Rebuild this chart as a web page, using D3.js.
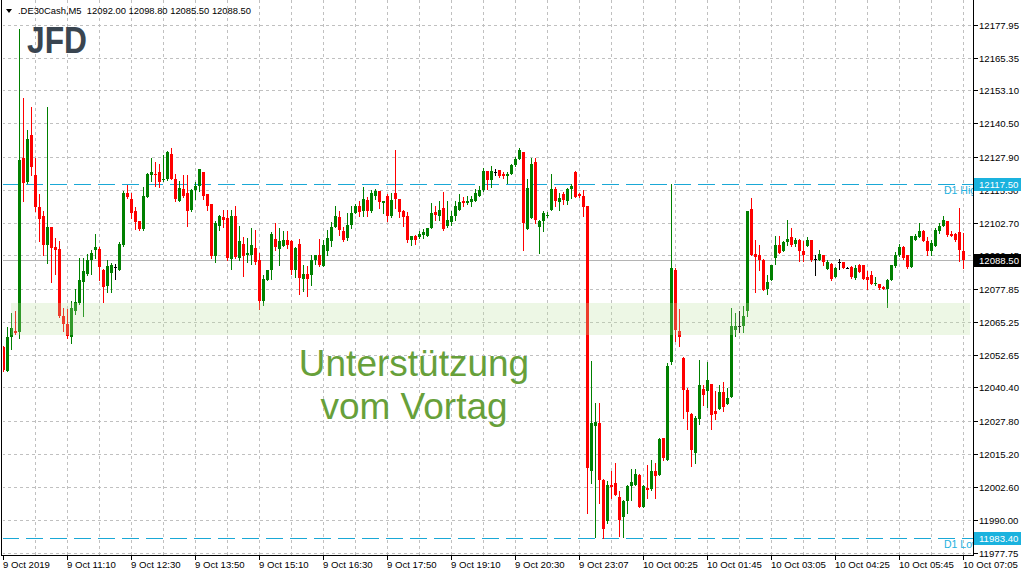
<!DOCTYPE html>
<html><head><meta charset="utf-8">
<script src="https://cdn.jsdelivr.net/npm/d3@7/dist/d3.min.js"></script>
<style>body{margin:0;background:#fff}svg{display:block}</style>
</head><body><svg id="c" width="1024" height="576"></svg>
<script>
const symbol = ".DE30Cash,M5";
const headerValues = ["12092.00","12098.80","12085.50","12088.50"];
const logoText = "JFD";
const opens = [12055.5,12046.5,12059.4,12061.9,12061.3,12127.4,12118.2,12135.9,12121.0,12108.9,
12105.5,12094.5,12101.1,12093.4,12093.0,12067.3,12064.2,12059.4,12069.5,12072.4,
12080.2,12083.5,12088.8,12092.3,12093.0,12085.0,12078.7,12083.8,12086.1,12085.0,
12094.3,12113.9,12111.9,12107.2,12103.4,12100.5,12112.6,12121.0,12121.4,12122.0,
12118.9,12119.4,12129.0,12119.4,12111.2,12115.6,12113.9,12107.5,12115.1,12116.6,
12122.1,12113.5,12109.7,12090.1,12101.7,12104.9,12104.6,12089.1,12105.5,12089.5,
12094.9,12090.4,12090.7,12093.3,12088.6,12073.0,12081.0,12085.0,12096.8,12092.9,
12094.1,12096.4,12095.8,12084.8,12094.9,12081.5,12083.5,12082.8,12088.6,12090.7,
12086.3,12092.0,12095.8,12101.2,12105.0,12099.8,12097.1,12102.1,12106.3,12109.0,
12107.2,12111.3,12107.2,12113.1,12115.0,12110.1,12112.8,12105.3,12113.9,12111.6,
12107.2,12105.5,12096.1,12097.9,12097.4,12098.3,12097.7,12100.8,12106.8,12105.5,
12108.2,12101.5,12103.2,12105.5,12107.8,12111.2,12110.1,12110.6,12111.2,12113.1,
12115.1,12122.3,12118.9,12122.1,12122.6,12121.3,12120.4,12121.1,12124.5,12127.0,
12129.5,12100.5,12104.6,12125.7,12101.2,12103.4,12105.3,12107.8,12115.4,12110.6,
12113.5,12110.9,12115.6,12122.0,12113.5,12113.1,12109.0,12008.6,12025.6,12026.9,
12005.4,11989.6,12003.5,12004.2,11998.8,11991.3,11997.2,12003.1,12003.5,12007.3,
11995.1,12002.3,12001.9,12008.6,12007.3,12021.2,12013.0,12049.9,12084.8,12061.6,
12051.6,12039.5,12030.4,12015.3,12028.2,12039.8,12038.9,12041.8,12031.3,12032.0,
12038.5,12034.1,12036.6,12062.3,12063.8,12063.8,12069.2,12108.1,12091.1,12090.7,
12088.8,12077.7,12081.0,12089.5,12094.5,12092.0,12095.4,12097.4,12094.9,12096.1,
12092.0,12094.1,12096.1,12089.1,12088.8,12090.4,12085.4,12087.3,12082.3,12087.8,
12087.8,12085.7,12086.1,12081.9,12086.6,12086.6,12082.3,12082.8,12079.4,12079.4,
12078.5,12077.7,12081.2,12086.3,12090.4,12093.6,12090.4,12086.1,12096.4,12097.4,
12099.6,12095.8,12092.0,12093.9,12099.6,12101.7,12103.4,12098.7,12098.7,12099.2,
12092.0];
const highs = [12055.9,12063.1,12068.6,12069.2,12176.4,12149.9,12138.1,12146.6,12127.4,12113.5,
12107.2,12146.6,12101.3,12097.1,12095.8,12070.5,12069.9,12073.0,12077.8,12089.5,
12089.5,12091.1,12092.6,12098.7,12093.4,12085.4,12088.5,12087.6,12087.3,12095.4,
12115.0,12117.0,12113.9,12108.8,12103.6,12116.4,12121.8,12127.4,12125.7,12125.2,
12128.3,12129.8,12131.2,12121.1,12118.5,12120.7,12120.7,12115.4,12118.2,12123.0,
12122.2,12113.5,12109.7,12103.4,12105.9,12107.5,12107.5,12107.5,12109.0,12101.5,
12097.4,12097.1,12100.8,12100.0,12091.4,12082.8,12085.0,12099.2,12102.5,12100.8,
12099.6,12099.6,12096.4,12093.6,12096.7,12086.6,12086.3,12090.7,12090.7,12096.7,
12096.1,12100.2,12102.9,12109.0,12107.2,12101.2,12106.5,12109.3,12109.7,12111.2,
12116.4,12112.6,12115.1,12115.4,12115.0,12111.2,12113.5,12113.9,12130.3,12111.6,
12107.5,12106.8,12097.8,12098.3,12099.6,12100.5,12100.9,12110.1,12109.0,12111.2,
12114.4,12110.9,12107.2,12110.9,12113.5,12112.6,12113.1,12113.1,12115.6,12116.9,
12123.6,12122.3,12124.2,12123.0,12122.6,12122.0,12122.0,12125.2,12127.8,12131.2,
12129.7,12119.2,12127.4,12127.4,12104.0,12107.2,12106.8,12121.1,12116.4,12114.1,
12114.4,12116.0,12117.3,12122.3,12114.1,12115.1,12109.3,12050.3,12034.3,12034.5,
12005.7,12004.8,12008.6,12011.5,12001.0,11997.8,12003.4,12009.5,12009.5,12007.4,
12003.5,12011.1,12013.0,12011.7,12021.0,12021.3,12049.6,12117.5,12085.7,12070.1,
12051.7,12040.2,12030.5,12029.4,12050.9,12041.1,12049.9,12041.8,12038.9,12041.1,
12042.3,12040.2,12070.5,12068.6,12069.2,12071.4,12107.2,12112.2,12096.1,12094.5,
12089.1,12082.8,12086.9,12097.9,12097.7,12095.8,12103.7,12100.8,12097.1,12096.7,
12095.8,12097.4,12096.4,12090.4,12092.4,12090.7,12088.6,12087.4,12086.1,12089.1,
12087.8,12085.9,12086.2,12086.6,12087.3,12086.7,12084.4,12084.4,12082.3,12079.7,
12078.7,12081.5,12086.9,12091.6,12094.9,12094.1,12090.7,12097.8,12098.7,12102.5,
12100.0,12097.4,12096.4,12100.8,12102.7,12105.5,12103.5,12099.6,12099.0,12108.5,
12098.8];
const lows = [12046.4,12046.4,12055.0,12060.6,12059.1,12110.9,12118.0,12121.0,12107.2,12095.8,
12090.7,12087.6,12080.2,12083.2,12067.2,12061.6,12059.1,12057.2,12068.2,12072.0,
12067.3,12083.1,12083.5,12089.5,12081.2,12072.6,12076.4,12076.4,12081.5,12085.0,
12094.1,12112.3,12104.6,12100.5,12100.0,12100.0,12112.6,12118.5,12116.6,12116.4,
12118.8,12118.9,12119.2,12110.9,12110.9,12112.7,12101.7,12107.4,12111.6,12114.7,
12111.6,12107.8,12089.5,12087.8,12100.0,12101.2,12088.8,12085.3,12089.5,12088.8,
12082.5,12087.8,12087.3,12087.3,12070.1,12071.5,12080.9,12081.5,12092.6,12086.9,
12094.1,12093.3,12083.5,12082.3,12075.6,12076.8,12074.9,12079.1,12087.3,12086.4,
12086.2,12090.4,12093.9,12101.2,12098.3,12095.8,12096.4,12100.8,12106.3,12105.5,
12105.5,12105.5,12107.0,12111.9,12108.4,12106.3,12103.4,12105.0,12108.4,12105.0,
12101.5,12095.4,12094.5,12094.9,12097.1,12097.1,12097.7,12100.8,12104.0,12104.0,
12100.0,12101.2,12102.1,12104.0,12107.5,12109.0,12109.7,12109.0,12110.9,12112.8,
12115.0,12115.6,12116.4,12120.7,12120.2,12119.8,12117.9,12121.1,12124.2,12127.0,
12092.6,12100.3,12104.6,12102.7,12091.4,12099.6,12105.0,12107.8,12109.0,12107.5,
12109.7,12109.7,12112.2,12112.6,12112.6,12105.3,11992.8,12004.2,11983.6,11996.6,
11983.4,11989.0,11998.5,11999.7,11984.0,11983.7,11992.8,11997.8,12003.5,11994.9,
11995.1,11998.5,12001.6,11998.5,12007.3,12013.0,12013.0,12049.4,12057.9,12056.0,
12028.8,12024.4,12010.5,12011.5,12026.6,12033.5,12033.0,12024.4,12028.4,12032.0,
12031.3,12034.0,12036.6,12059.8,12061.3,12061.3,12067.6,12090.4,12076.4,12084.8,
12077.2,12075.9,12081.0,12087.3,12091.4,12092.0,12094.5,12094.1,12094.1,12088.2,
12088.2,12093.9,12088.2,12082.8,12088.6,12086.6,12085.3,12081.0,12082.2,12085.3,
12085.7,12085.5,12081.9,12081.5,12084.0,12081.5,12077.7,12079.6,12079.0,12077.7,
12077.5,12070.9,12081.2,12086.1,12090.3,12089.1,12085.7,12086.1,12096.1,12097.4,
12095.8,12090.7,12090.7,12093.9,12099.0,12101.5,12097.9,12097.7,12095.8,12088.2,
12085.5];
const closes = [12047.1,12059.4,12062.9,12060.8,12126.4,12117.9,12134.7,12123.8,12108.7,12104.3,
12094.5,12101.3,12093.3,12092.6,12067.3,12064.5,12059.8,12070.3,12072.8,12081.0,
12084.4,12088.8,12091.4,12093.4,12085.9,12078.3,12086.3,12086.6,12086.1,12094.9,
12114.1,12112.6,12106.3,12103.1,12100.5,12112.8,12121.4,12122.2,12120.7,12118.2,
12119.4,12129.5,12119.4,12111.6,12116.0,12113.1,12107.2,12115.1,12116.9,12123.0,
12113.1,12109.0,12090.1,12102.7,12105.3,12103.8,12089.5,12105.5,12089.9,12095.7,
12090.1,12091.4,12094.5,12087.8,12073.3,12081.5,12085.0,12098.7,12093.6,12095.8,
12096.1,12094.5,12085.0,12093.3,12081.9,12083.5,12081.5,12088.6,12090.4,12086.6,
12094.5,12097.1,12101.2,12105.5,12100.0,12096.4,12102.1,12106.3,12109.3,12106.8,
12111.6,12107.2,12113.9,12115.0,12110.6,12111.2,12105.5,12111.3,12111.6,12106.8,
12104.9,12096.1,12097.7,12096.4,12098.6,12099.2,12100.8,12106.3,12105.9,12107.8,
12100.5,12104.0,12105.5,12109.0,12110.6,12110.1,12111.2,12111.9,12113.9,12115.1,
12122.3,12118.9,12122.3,12122.1,12120.4,12120.4,12121.4,12124.5,12126.8,12130.3,
12102.7,12116.0,12124.9,12103.8,12103.4,12106.3,12105.9,12115.4,12110.9,12112.2,
12111.3,12115.6,12116.9,12112.6,12112.8,12108.7,12009.8,12026.9,12027.3,12005.4,
11986.7,12003.5,12002.7,11999.7,11990.2,11997.4,12003.1,12004.4,12007.7,11995.1,
12002.9,12001.6,12008.6,12006.9,12020.9,12013.6,12048.4,12085.7,12062.3,12059.4,
12039.5,12030.9,12016.5,12028.8,12041.1,12037.3,12043.1,12029.7,12030.4,12038.5,
12033.0,12036.4,12063.8,12063.6,12063.8,12067.6,12107.2,12090.4,12089.9,12088.6,
12077.2,12080.2,12086.6,12094.5,12091.4,12095.4,12096.7,12094.5,12096.4,12092.0,
12090.7,12096.4,12088.8,12089.1,12091.1,12087.8,12087.8,12081.5,12085.7,12087.8,
12085.7,12085.7,12082.3,12085.7,12084.0,12081.5,12081.2,12079.7,12080.0,12078.1,
12077.5,12081.0,12086.6,12090.7,12093.6,12089.5,12086.1,12097.7,12097.7,12099.6,
12095.8,12092.0,12095.2,12100.2,12101.5,12104.0,12098.3,12097.9,12096.4,12092.6,
12088.5];
const yTickValues = [12177.95,12165.35,12153.10,12140.50,12127.90,12115.30,12102.70,12090.45,12077.85,12065.25,12052.65,12040.40,12027.80,12015.20,12002.60,11990.00,11977.75];
const yTickLabels = ["12177.95","12165.35","12153.10","12140.50","12127.90","12115.30","12102.70","12090.45","12077.85","12065.25","12052.65","12040.40","12027.80","12015.20","12002.60","11990.00","11977.75"];
const xTickIndex = [0,16,32,48,64,80,96,112,128,144,160,176,192,208,224,240];
const xTickLabels = ["9 Oct 2019","9 Oct 11:10","9 Oct 12:30","9 Oct 13:50","9 Oct 15:10","9 Oct 16:30","9 Oct 17:50","9 Oct 19:10","9 Oct 20:30","9 Oct 23:07","10 Oct 00:25","10 Oct 01:45","10 Oct 03:05","10 Oct 04:25","10 Oct 05:45","10 Oct 07:05"];
const currentPrice = 12088.50;
const levelValues = [12117.50, 11983.40];
const levelNames = ["D1 High", "D1 Low"];
const zonePrices = [12072.5, 12060.4];
const zoneBars = [1.9, 241.7];
const annotationLines = ["Unterstützung", "vom Vortag"];

const svg = d3.select("#c");
const W = 1024, H = 576;
const plotL = 2, plotR = 973, plotT = 0, plotB = 555;
const font = "'Liberation Sans', Arial, sans-serif";
const small = 9.6;
const n = opens.length;
const bars = d3.range(n).map(i => ({i, o: opens[i], h: highs[i], l: lows[i], c: closes[i]}));

const x = d3.scaleLinear().domain([0, n - 1]).range([3.3, 963.3]);
const y = d3.scaleLinear().domain([11977.75, 12177.95]).range([552.5, 24.5]);
const px = v => Math.round(x(v));
const py = v => Math.round(y(v));

svg.append("rect").attr("width", W).attr("height", H).attr("fill", "#fff");
svg.append("defs").append("clipPath").attr("id", "plot")
  .append("rect").attr("x", plotL + 1).attr("y", plotT).attr("width", plotR - plotL - 1).attr("height", plotB - plotT);

const g = svg.append("g").attr("clip-path", "url(#plot)").attr("shape-rendering", "crispEdges");

// grid
g.selectAll(".hg").data(yTickValues).enter().append("line")
  .attr("x1", plotL).attr("x2", plotR)
  .attr("y1", d => py(d) + 0.5).attr("y2", d => py(d) + 0.5)
  .attr("stroke", "#c0c0c0").attr("stroke-dasharray", "3,3");
const vIdx = d3.range(8, n, 8);
g.selectAll(".vg").data(vIdx).enter().append("line")
  .attr("x1", d => px(d) + 0.5).attr("x2", d => px(d) + 0.5)
  .attr("y1", plotT).attr("y2", plotB)
  .attr("stroke", "#c0c0c0").attr("stroke-dasharray", "3,3");

// current price line
g.append("line").attr("x1", plotL).attr("x2", plotR)
  .attr("y1", py(currentPrice) + 0.5).attr("y2", py(currentPrice) + 0.5)
  .attr("stroke", "#b4b4b4");

// D1 level lines
const cyan = "#1aa8d6";
levelValues.forEach((v, k) => {
  g.append("line").attr("x1", plotL).attr("x2", plotR)
    .attr("y1", py(v) + 0.5).attr("y2", py(v) + 0.5)
    .attr("stroke", cyan).attr("stroke-dasharray", "17,7");
  g.append("text").attr("x", 944).attr("y", py(v) + 10)
    .attr("font-family", font).attr("font-size", 10.5).attr("fill", "#22b0e0")
    .text(levelNames[k]);
});

// candles
const col = d => d.c > d.o ? "#008000" : (d.c < d.o ? "#ff0000" : "#000000");
const cg = g.append("g");
cg.selectAll(".wick").data(bars).enter().append("rect")
  .attr("x", d => px(d.i)).attr("width", 1)
  .attr("y", d => py(d.h)).attr("height", d => Math.max(1, py(d.l) - py(d.h) + 1))
  .attr("fill", col);
cg.selectAll(".body").data(bars).enter().append("rect")
  .attr("x", d => px(d.i) - 1).attr("width", 3)
  .attr("y", d => py(Math.max(d.o, d.c)))
  .attr("height", d => Math.max(1, py(Math.min(d.o, d.c)) - py(Math.max(d.o, d.c))))
  .attr("fill", col);

// support zone
g.append("rect")
  .attr("x", x(zoneBars[0])).attr("width", x(zoneBars[1]) - x(zoneBars[0]))
  .attr("y", y(zonePrices[0])).attr("height", y(zonePrices[1]) - y(zonePrices[0]))
  .attr("fill", "rgb(190,225,160)").attr("fill-opacity", 0.27);

// annotation
annotationLines.forEach((t, k) => {
  svg.append("text").attr("x", 414).attr("y", 376 + k * 43)
    .attr("text-anchor", "middle").attr("font-family", font).attr("font-size", 37)
    .attr("fill", "#67a03a").text(t);
});

// logo
svg.append("text").attr("x", 27).attr("y", 53).attr("font-family", font)
  .attr("font-weight", "bold").attr("font-size", 36).attr("fill", "#3a4550")
  .attr("textLength", 60).attr("lengthAdjust", "spacingAndGlyphs").text(logoText);

// frame
const fr = svg.append("g").attr("shape-rendering", "crispEdges");
fr.append("line").attr("x1", 1.5).attr("x2", 1.5).attr("y1", 0).attr("y2", plotB + 1).attr("stroke", "#000");
fr.append("line").attr("x1", plotR + 0.5).attr("x2", plotR + 0.5).attr("y1", 0).attr("y2", plotB + 1).attr("stroke", "#000");
fr.append("line").attr("x1", 1).attr("x2", plotR + 1).attr("y1", plotB + 0.5).attr("y2", plotB + 0.5).attr("stroke", "#000");

// right axis
yTickValues.forEach((v, k) => {
  fr.append("line").attr("x1", plotR + 1).attr("x2", plotR + 5)
    .attr("y1", py(v) + 0.5).attr("y2", py(v) + 0.5).attr("stroke", "#000");
  svg.append("text").attr("x", 979).attr("y", py(v) + 4)
    .attr("font-family", font).attr("font-size", small).attr("fill", "#000")
    .text(yTickLabels[k]);
});

// bottom axis
xTickIndex.forEach((v, k) => {
  fr.append("line").attr("x1", px(v) + 0.5).attr("x2", px(v) + 0.5)
    .attr("y1", plotB + 1).attr("y2", plotB + 5).attr("stroke", "#000");
  svg.append("text").attr("x", px(v)).attr("y", 568)
    .attr("font-family", font).attr("font-size", small).attr("fill", "#000")
    .text(xTickLabels[k]);
});

// price boxes
function box(v, bg) {
  const yy = py(v);
  svg.append("rect").attr("x", 974).attr("y", yy - 6).attr("width", 47).attr("height", 13)
    .attr("fill", bg).attr("shape-rendering", "crispEdges");
  svg.append("text").attr("x", 979).attr("y", yy + 4)
    .attr("font-family", font).attr("font-size", small).attr("fill", "#fff")
    .text(d3.format(".2f")(v));
}
box(currentPrice, "#000");
levelValues.forEach(v => box(v, "#1ab2de"));

// header
svg.append("path").attr("d", "M6,9 L12,9 L9,13 Z").attr("fill", "#000");
svg.append("text").attr("x", 18).attr("y", 14).attr("font-family", font).attr("font-size", 9.4)
  .attr("fill", "#000").style("white-space", "pre")
  .text(symbol + "  " + headerValues.join(" "));
</script></body></html>
